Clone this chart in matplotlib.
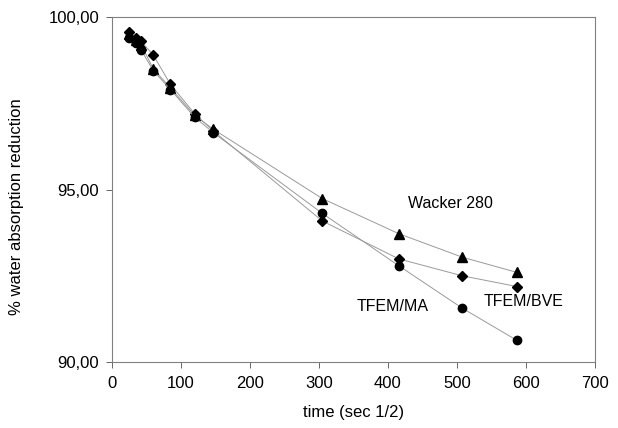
import matplotlib.pyplot as plt
import matplotlib as mpl

mpl.rcParams['font.family'] = ['Liberation Sans', 'DejaVu Sans']

# time in sec^(1/2)
time = [24.5, 34.6, 42.4, 60.0, 84.9, 120.0, 147.0, 305.0, 416.0, 508.0, 587.0]

# % water absorption reduction
wacker = [99.50, 99.35, 99.20, 98.50, 97.95, 97.15, 96.75, 94.74, 93.72, 93.04, 92.60]
tfem_bve = [99.57, 99.40, 99.30, 98.90, 98.05, 97.20, 96.70, 94.09, 92.99, 92.50, 92.19]
tfem_ma = [99.40, 99.25, 99.05, 98.45, 97.90, 97.10, 96.65, 94.31, 92.79, 91.56, 90.63]

labels = {'Wacker 280': (491, 94.6), 'TFEM/MA': (407, 91.6), 'TFEM/BVE': (596, 91.75)}
yticks = [90, 95, 100]
ytick_labels = ['90,00', '95,00', '100,00']

fig = plt.figure(figsize=(6.18, 4.28), dpi=100)
ax = fig.add_axes([0.181, 0.154, 0.7816, 0.806])

line_kw = dict(color='#9a9a9a', linewidth=0.7, markeredgecolor='black', markerfacecolor='black')
ax.plot(time, wacker, marker='^', markersize=7, **line_kw)
ax.plot(time, tfem_bve, marker='D', markersize=5, **line_kw)
ax.plot(time, tfem_ma, marker='o', markersize=6, **line_kw)

for text, (x, y) in labels.items():
    ax.text(x, y, text, ha='center', va='center', fontsize=11.5)

ax.set_xlim(0, 700)
ax.set_ylim(90, 100)
ax.set_xticks(range(0, 701, 100))
ax.set_yticks(yticks)
ax.set_yticklabels(ytick_labels)
ax.tick_params(labelsize=12, length=4, width=0.7, color='#666666')
ax.tick_params(axis='y', pad=5)
ax.tick_params(axis='x', pad=6)

for s in ax.spines.values():
    s.set_color('#808080')
    s.set_linewidth(0.8)

ax.set_xlabel('time (sec 1/2)', fontsize=12, labelpad=10)
ax.set_ylabel('% water absorption reduction', fontsize=12)
ax.yaxis.set_label_coords(-0.182, 0.45)

fig.savefig('out.png', dpi=100)
